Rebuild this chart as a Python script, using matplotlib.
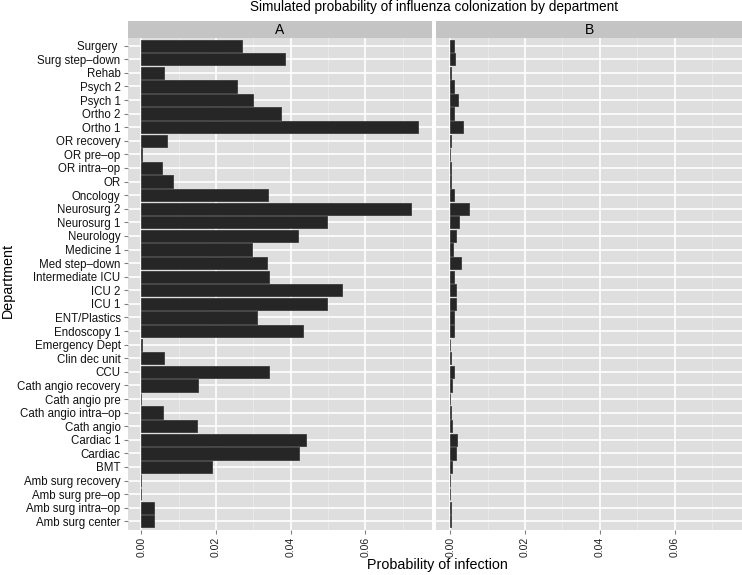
import numpy as np
import matplotlib
matplotlib.use('Agg')
from matplotlib import pyplot as plt

plt.rcParams['font.family'] = ['Liberation Sans', 'DejaVu Sans']

# departments, bottom to top (alphabetical as in the original)
departments = ['Amb surg center', 'Amb surg intra–op', 'Amb surg pre–op', 'Amb surg recovery',
               'BMT', 'Cardiac', 'Cardiac 1', 'Cath angio', 'Cath angio intra–op',
               'Cath angio pre', 'Cath angio recovery', 'CCU', 'Clin dec unit',
               'Emergency Dept', 'Endoscopy 1', 'ENT/Plastics', 'ICU 1', 'ICU 2',
               'Intermediate ICU', 'Med step–down', 'Medicine 1', 'Neurology',
               'Neurosurg 1', 'Neurosurg 2', 'Oncology', 'OR', 'OR intra–op',
               'OR pre–op', 'OR recovery', 'Ortho 1', 'Ortho 2', 'Psych 1', 'Psych 2',
               'Rehab', 'Surg step–down', 'Surgery ']

prob_a = [0.0034, 0.0035, 0.0, 0.0, 0.0190, 0.0422, 0.0441, 0.0148, 0.0058,
          0.0, 0.0151, 0.0342, 0.0060, 0.0003, 0.0433, 0.0310, 0.0497, 0.0537,
          0.0341, 0.0338, 0.0297, 0.0419, 0.0497, 0.0724, 0.0339, 0.0086, 0.0055,
          0.0002, 0.0068, 0.0741, 0.0374, 0.0298, 0.0257, 0.0061, 0.0386, 0.0270]

prob_b = [0.0002, 0.0002, 0.0, 0.0, 0.0005, 0.0016, 0.0017, 0.0005, 0.0002,
          0.0, 0.0005, 0.0010, 0.0002, 0.0, 0.0010, 0.0010, 0.0016, 0.0014,
          0.0010, 0.0028, 0.0008, 0.0016, 0.0023, 0.0051, 0.0010, 0.0002, 0.0002,
          0.0, 0.0003, 0.0034, 0.0010, 0.0021, 0.0010, 0.0002, 0.0012, 0.0010]

facets = ['A', 'B']
xticks = [0.0, 0.02, 0.04, 0.06]
xticklabels = ['0.00', '0.02', '0.04', '0.06']
minor = [0.01, 0.03, 0.05, 0.07]

W, H = 742, 575
fig = plt.figure(figsize=(W / 100, H / 100), dpi=100)

def fx(px):
    return px / W

def fy(py):
    return 1 - py / H

top, bottom = 37.5, 529.5
panels = [(127.5, 432.0), (436.5, 741.5)]
strip_top = 20.5

for (x0, x1), name, vals in zip(panels, facets, [prob_a, prob_b]):
    ax = fig.add_axes([fx(x0), fy(bottom), fx(x1 - x0), (bottom - top) / H])
    ax.set_facecolor('#dedede')
    for m in minor:
        ax.axvline(m, color='#ebebeb', lw=0.6, zorder=0)
    for t in xticks:
        ax.axvline(t, color='white', lw=1.2, zorder=0)
    for i in range(len(departments)):
        ax.axhline(i, color='white', lw=1.2, zorder=0)
    ax.barh(departments, vals, height=0.9, color='#262626', edgecolor='#3c3c3c',
            linewidth=0.6, zorder=2)
    ax.set_xlim(-0.0037, 0.0779)
    ax.set_ylim(-0.6, len(departments) - 0.4)
    ax.set_xticks(xticks)
    ax.set_xticklabels(xticklabels, rotation=90, fontsize=7.5, color='#222222')
    ax.tick_params(axis='both', length=3, width=0.8, color='#808080', pad=2)
    ax.tick_params(axis='y', labelsize=8.3, labelcolor='#111111')
    if name == 'B':
        ax.tick_params(axis='y', left=False, labelleft=False)
    for s in ax.spines.values():
        s.set_visible(False)

    # facet strip
    sax = fig.add_axes([fx(x0), fy(top), fx(x1 - x0), (top - strip_top) / H])
    sax.set_facecolor('#c4c4c4')
    sax.set_xticks([])
    sax.set_yticks([])
    for s in sax.spines.values():
        s.set_visible(False)
    sax.text(0.5, 0.45, name, ha='center', va='center', fontsize=10, transform=sax.transAxes)

fig.text(fx(434.5), fy(11.5), 'Simulated probability of influenza colonization by department',
         ha='center', va='baseline', fontsize=9.8)
fig.text(fx(437), fy(565), 'Probability of infection', ha='center', va='center', fontsize=10.3)
fig.text(fx(7.5), fy(281), 'Department', ha='center', va='center', rotation=90, fontsize=10.3)

fig.savefig('out.png', dpi=100)
